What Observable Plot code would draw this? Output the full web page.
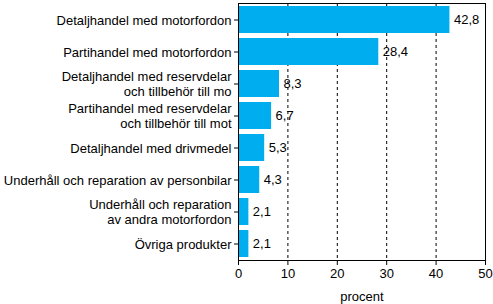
<!DOCTYPE html>
<html>
<head>
<meta charset="utf-8">
<script src="https://cdn.jsdelivr.net/npm/d3@7"></script>
<script src="https://cdn.jsdelivr.net/npm/@observablehq/plot@0.6"></script>
<style>
  html, body { margin: 0; padding: 0; background: #fff; }
</style>
</head>
<body>
<div id="chart"></div>
<script>
const categories = [
  "Detaljhandel med motorfordon",
  "Partihandel med motorfordon",
  "Detaljhandel med reservdelar\noch tillbehör till mo",
  "Partihandel med reservdelar\noch tillbehör till mot",
  "Detaljhandel med drivmedel",
  "Underhåll och reparation av personbilar",
  "Underhåll och reparation\nav andra motorfordon",
  "Övriga produkter"
];
const values = [42.8, 28.4, 8.3, 6.7, 5.3, 4.3, 2.1, 2.1];
const xTicks = [0, 10, 20, 30, 40, 50];
const gridTicks = [10, 20, 30, 40];
const xLabel = "procent";

const data = categories.map((c, i) => ({category: c, value: values[i]}));
const fmt = v => String(v.toFixed(1)).replace(".", ",");

const chart = Plot.plot({
  width: 493,
  height: 304,
  marginLeft: 238,
  marginRight: 8,
  marginTop: 3,
  marginBottom: 44,
  style: {fontFamily: "'Liberation Sans', Arial, sans-serif", fontSize: "13px", color: "#000", background: "#fff"},
  x: {domain: [0, 50]},
  y: {domain: categories, paddingInner: 0.17, paddingOuter: 0.06},
  marks: [
    Plot.gridX(gridTicks, {stroke: "#000", strokeOpacity: 1, strokeDasharray: "3,3"}),
    Plot.barX(data, {x: "value", y: "category", fill: "#00adef"}),
    Plot.text(data, {x: "value", y: "category", text: d => fmt(d.value), textAnchor: "start", dx: 4, fill: "#000", fontSize: 13}),
    Plot.axisY({tickSize: 4, tickPadding: 3, lineHeight: 1.15, label: null, fill: "#000", fontSize: 13}),
    Plot.axisX({ticks: xTicks, tickSize: 5, tickPadding: 3, label: xLabel, labelAnchor: "center", labelArrow: "none", labelOffset: 40, fill: "#000", fontSize: 13}),
    Plot.frame({stroke: "#000"})
  ]
});
document.getElementById("chart").appendChild(chart);
</script>
</body>
</html>
